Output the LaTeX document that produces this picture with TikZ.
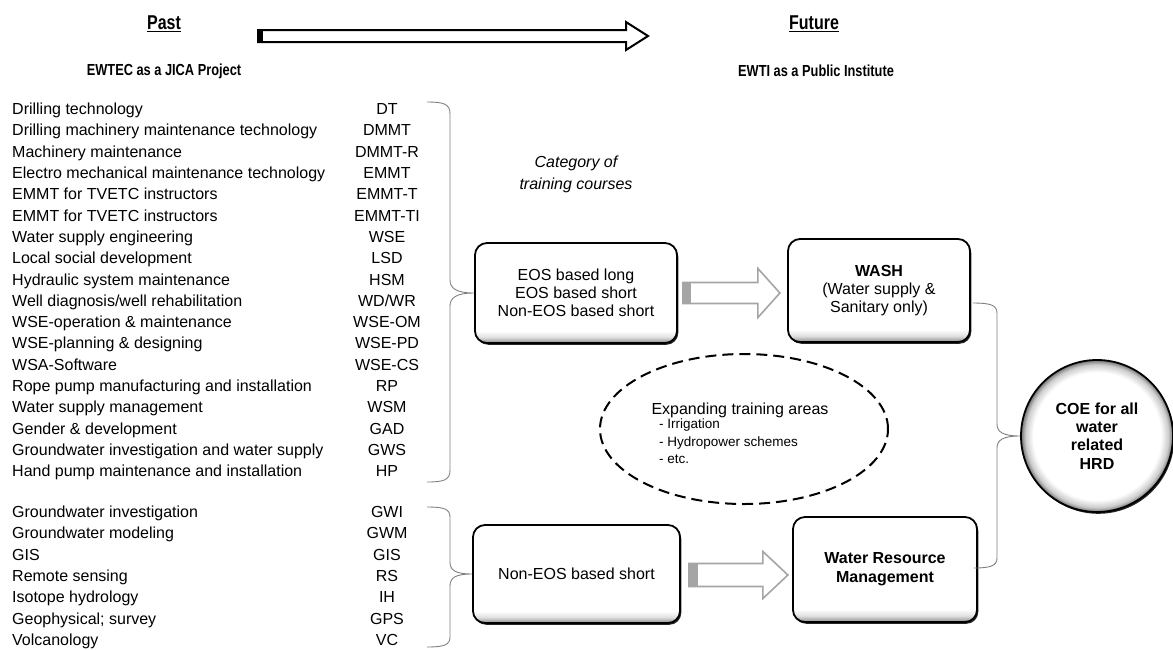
\documentclass[tikz,border=0pt]{standalone}
\usepackage{fontspec}
\setmainfont{Liberation Sans}
\newfontfamily\narrowfont{Liberation Sans}[FakeStretch=0.8]
\usetikzlibrary{calc,shadows,shapes.geometric}

\definecolor{arrowgray}{RGB}{165,165,165}
\definecolor{bracegray}{RGB}{128,128,128}

% soft grey rim along the lower edge of the rounded boxes
\pgfdeclareverticalshading{bevel}{100bp}{color(0bp)=(black!45); color(25bp)=(black!45); color(28bp)=(black!12); color(31bp)=(white); color(100bp)=(white)}
% grey rim inside the circle
\pgfdeclareradialshading{rimglow}{\pgfpoint{0bp}{0bp}}{color(0bp)=(white); color(21bp)=(white); color(23.5bp)=(black!20); color(25bp)=(black!55); color(50bp)=(black!55)}

\newcommand{\course}[4]{%
  \node[item] (c#1) at (12,#2) {#3};
  \node[abbr] (a#1) at (387,#2) {#4};}

\begin{document}
\begin{tikzpicture}[x=1pt,y=-1pt,
  txt/.style={font=\fontsize{16}{18}\selectfont, inner sep=0pt},
  item/.style={txt, anchor=mid west},
  abbr/.style={txt, anchor=mid},
  small/.style={font=\fontsize{13.5}{16}\selectfont, inner sep=0pt, anchor=mid west},
  head/.style={font=\narrowfont\bfseries\fontsize{20}{24}\selectfont, inner sep=0pt},
  subhead/.style={font=\narrowfont\bfseries\fontsize{16}{18}\selectfont, inner sep=0pt},
  roundbox/.style={draw=black, line width=1.8pt, rounded corners=12pt, align=center,
    shading=bevel, inner sep=0pt,
    drop shadow={shadow xshift=1.3pt, shadow yshift=-1.8pt, fill=black, opacity=0.85},
    font=\fontsize{16}{18}\selectfont},
  brace/.style={draw=bracegray, line width=0.9pt},
  garrow/.style={draw=arrowgray, line width=1.6pt, fill=white, line join=miter},
  bigarrow/.style={draw=black, line width=2pt, fill=white, line join=miter}]

\useasboundingbox (0,0) rectangle (1173,649);
\clip (0,0) rectangle (1173,649);

% headings
\node[head] (past) at (164,24) {\underline{Past}};
\node[head] (future) at (814,24) {\underline{Future}};
\node[subhead] (jica) at (164,71) {EWTEC as a JICA Project};
\node[subhead] (inst) at (816,71) {EWTI as a Public Institute};

% timeline arrow
\coordinate (tl) at (258,36);
\begin{scope}[shift={(tl)}]
  \draw[bigarrow] (0,-6) -- (368,-6) -- (368,-14) -- (390,0) -- (368,14) -- (368,6) -- (0,6) -- cycle;
  \fill[black] (-1,-7) rectangle (5,7);
\end{scope}

% training courses, first group
\course{1}{112}{Drilling technology}{DT}
\course{2}{133.3}{Drilling machinery maintenance technology}{DMMT}
\course{3}{154.6}{Machinery maintenance}{DMMT-R}
\course{4}{175.9}{Electro mechanical maintenance technology}{EMMT}
\course{5}{197.2}{EMMT for TVETC instructors}{EMMT-T}
\course{6}{218.5}{EMMT for TVETC instructors}{EMMT-TI}
\course{7}{239.8}{Water supply engineering}{WSE}
\course{8}{261.1}{Local social development}{LSD}
\course{9}{282.4}{Hydraulic system maintenance}{HSM}
\course{10}{303.7}{Well diagnosis/well rehabilitation}{WD/WR}
\course{11}{325}{WSE-operation \& maintenance}{WSE-OM}
\course{12}{346.3}{WSE-planning \& designing}{WSE-PD}
\course{13}{367.6}{WSA-Software}{WSE-CS}
\course{14}{388.9}{Rope pump manufacturing and installation}{RP}
\course{15}{410.2}{Water supply management}{WSM}
\course{16}{431.5}{Gender \& development}{GAD}
\course{17}{452.8}{Groundwater investigation and water supply}{GWS}
\course{18}{474.1}{Hand pump maintenance and installation}{HP}

% training courses, second group
\course{19}{515}{Groundwater investigation}{GWI}
\course{20}{536.3}{Groundwater modeling}{GWM}
\course{21}{557.6}{GIS}{GIS}
\course{22}{578.9}{Remote sensing}{RS}
\course{23}{600.2}{Isotope hydrology}{IH}
\course{24}{621.5}{Geophysical; survey}{GPS}
\course{25}{642.8}{Volcanology}{VC}

% category boxes
\node[txt, font=\itshape\fontsize{16}{22}\selectfont, align=center] (cat) at (576,174) {Category of\\training courses};
\node[roundbox, minimum width=202pt, minimum height=100pt] (eos) at (576,293)
  {EOS based long\\EOS based short\\Non-EOS based short};
\node[roundbox, minimum width=207pt, minimum height=98pt] (noneos) at (576.5,574)
  {Non-EOS based short};

% future areas
\node[roundbox, minimum width=182pt, minimum height=103pt] (wash) at (879,290.5)
  {\textbf{WASH}\\(Water supply \&\\Sanitary only)};
\node[roundbox, minimum width=184pt, minimum height=105pt, font=\bfseries\fontsize{16}{19}\selectfont] (wrm) at (885,569.5)
  {Water Resource\\Management};

\node[circle, draw=black, line width=1.8pt, minimum size=152pt, inner sep=0pt,
  shading=rimglow, align=center,
  drop shadow={shadow xshift=1.3pt, shadow yshift=-1.8pt, fill=black, opacity=0.85},
  font=\bfseries\fontsize{16}{18.3}\selectfont] (coe) at (1097,436)
  {COE for all\\water\\related\\HRD};

% expanding areas
\node[ellipse, draw=black, line width=2pt, dash pattern=on 11pt off 6pt,
  minimum width=288pt, minimum height=150pt] (exp) at (744,429) {};
\node[txt] (exph) at (740,410) {Expanding training areas};
\node[small] (exp1) at (659,426) {- Irrigation};
\node[small] (exp2) at (659,444) {- Hydropower schemes};
\node[small] (exp3) at (659,461) {- etc.};

% braces
\coordinate (b1t) at (427,102);
\coordinate (b1b) at (427,482);
\draw[brace] (b1t) .. controls (444,102) and (450,104) .. (450,114) -- (450,280)
  .. controls (450,288) and (456,293) .. (eos.west)
  .. controls (456,293) and (450,298) .. (450,306) -- (450,470)
  .. controls (450,480) and (444,482) .. (b1b);

\coordinate (b2t) at (427,507);
\coordinate (b2b) at (427,647);
\draw[brace] (b2t) .. controls (444,507) and (450,509) .. (450,517) -- (450,562)
  .. controls (450,570) and (455,574) .. (noneos.west)
  .. controls (455,574) and (450,578) .. (450,586) -- (450,637)
  .. controls (450,645) and (444,647) .. (b2b);

\coordinate (b3t) at ($(wash.east)+(2,12.5)$);
\coordinate (b3b) at ($(wrm.east)+(-4,-1.5)$);
\draw[brace] (b3t) .. controls (990,303) and (997,305) .. (997,313) -- (997,424)
  .. controls (997,432) and (1003,436) .. (coe.west)
  .. controls (1003,436) and (997,440) .. (997,448) -- (997,558)
  .. controls (997,566) and (990,568) .. (b3b);

% transition arrows
\begin{scope}[shift={($(eos.east)+(5,0)$)}]
  \draw[garrow] (0,-10.5) -- (75,-10.5) -- (75,-24.5) -- (97,0) -- (75,24.5) -- (75,10.5) -- (0,10.5) -- cycle;
  \fill[arrowgray] (-0.8,-11.3) rectangle (8,11.3);
\end{scope}
\begin{scope}[shift={($(noneos.east)+(8,1)$)}]
  \draw[garrow] (0,-11.5) -- (74,-11.5) -- (74,-23.5) -- (99,0) -- (74,23.5) -- (74,11.5) -- (0,11.5) -- cycle;
  \fill[arrowgray] (-0.8,-12.3) rectangle (9,12.3);
\end{scope}

\end{tikzpicture}
\end{document}
